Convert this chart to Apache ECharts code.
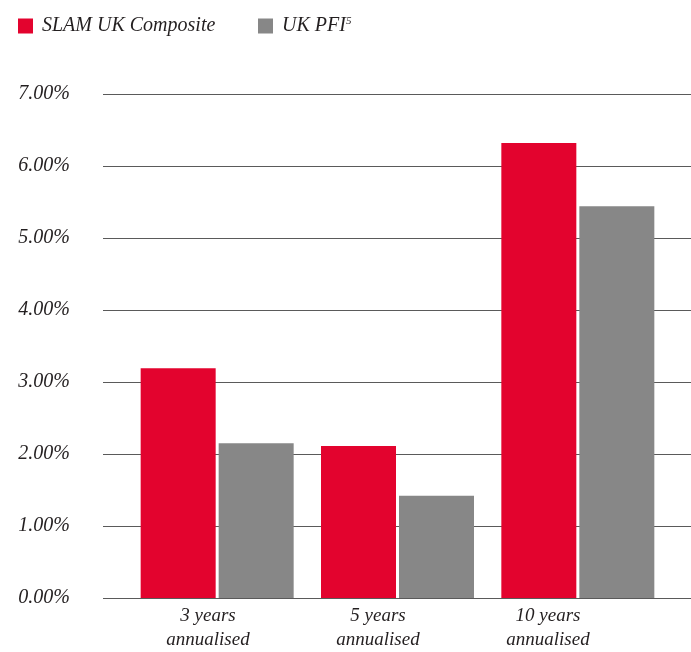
<!DOCTYPE html>
<html>
<head>
<meta charset="utf-8">
<script src="https://cdn.jsdelivr.net/npm/echarts@6/dist/echarts.min.js"></script>
<style>html,body{margin:0;padding:0;background:#fff}#c{width:691px;height:652px}</style>
</head>
<body>
<div id="c"></div>
<script>
const categories = ['3 years\nannualised', '5 years\nannualised', '10 years\nannualised'];
const slamValues = [3.19, 2.11, 6.32];
const pfiValues = [2.15, 1.42, 5.44];
const seriesNames = ['SLAM UK Composite', 'UK PFI'];
const yTicks = { min: 0, max: 7, interval: 1 };

const FONT = '"Liberation Serif", "DejaVu Serif", serif';
const TXT = '#231F20';
const RED = '#E3032E';
const GREY = '#878787';

const chart = echarts.init(document.getElementById('c'));
const legendBase = {
  top: 16, padding: 0, icon: 'rect', itemWidth: 15, itemHeight: 15,
  textStyle: { fontFamily: FONT, fontStyle: 'italic', fontSize: 20, color: TXT, padding: [0, 0, 0, 4],
    rich: { sup: { fontFamily: FONT, fontStyle: 'italic', fontSize: 11, color: TXT, verticalAlign: 'top', padding: [0, 0, 8, 0] } } },
  formatter: n => n === 'UK PFI' ? 'UK PFI{sup|5}' : n,
  selectedMode: false
};
chart.setOption({
  animation: false,
  legend: [
    Object.assign({}, legendBase, { left: 18, data: [seriesNames[0]] }),
    Object.assign({}, legendBase, { left: 258, data: [seriesNames[1]] })
  ],
  grid: [
    { left: 103, right: 0, top: 94, bottom: 54 },
    { left: 127, width: 541, top: 94, bottom: 54 },
    { left: 123, width: 510, top: 94, bottom: 54 }
  ],
  xAxis: [
    { type: 'category', gridIndex: 0, data: categories, show: false },
    { type: 'category', gridIndex: 1, data: categories, show: false },
    { type: 'category', gridIndex: 2, data: categories,
      axisLine: { show: false }, axisTick: { show: false },
      axisLabel: { fontFamily: FONT, fontStyle: 'italic', fontSize: 19, color: TXT, lineHeight: 24, margin: 11 } }
  ],
  yAxis: [
    { type: 'value', gridIndex: 0, min: yTicks.min, max: yTicks.max, interval: yTicks.interval,
      axisLine: { show: false }, axisTick: { show: false },
      axisLabel: { formatter: v => v.toFixed(2) + '%', fontFamily: FONT, fontStyle: 'italic', fontSize: 20, color: TXT, margin: 33 },
      splitLine: { show: true, lineStyle: { color: '#5a5a5a', width: 1.2 } } },
    { type: 'value', gridIndex: 1, min: yTicks.min, max: yTicks.max, interval: yTicks.interval, show: false,
      splitLine: { show: false } },
    { type: 'value', gridIndex: 2, min: yTicks.min, max: yTicks.max, interval: yTicks.interval, show: false,
      splitLine: { show: false } }
  ],
  series: [
    { name: seriesNames[0], type: 'bar', xAxisIndex: 1, yAxisIndex: 1, data: slamValues,
      barWidth: 75, barGap: '4%', itemStyle: { color: RED } },
    { name: seriesNames[1], type: 'bar', xAxisIndex: 1, yAxisIndex: 1, data: pfiValues,
      barWidth: 75, barGap: '4%', itemStyle: { color: GREY } }
  ]
});
</script>
</body>
</html>
